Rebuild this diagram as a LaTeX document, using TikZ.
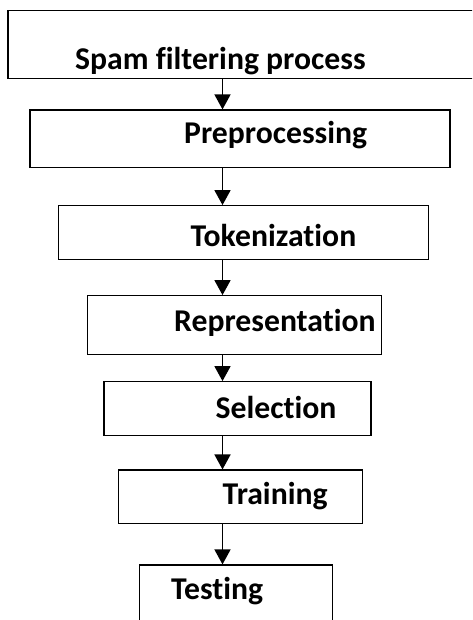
\documentclass[tikz,border=0pt]{standalone}
\usepackage{fontspec}
\setmainfont{Carlito}[Ligatures=NoCommon]
\usetikzlibrary{arrows.meta}
\begin{document}
\begin{tikzpicture}[x=1pt,y=-1pt,
 box/.style={draw, line width=1.2pt, rectangle, inner sep=0pt},
 lbl/.style={anchor=base west, inner sep=0pt, font=\fontsize{31.7}{36}\selectfont\bfseries},
 flow/.style={line width=1.6pt, -{Triangle[length=15pt,width=16pt]}}]
\useasboundingbox (0,0) rectangle (472,620);
\clip (0,0) rectangle (472,620);
\coordinate (ax) at (222.5,0);
\node[box, minimum width=512pt, minimum height=68pt] (b1) at (264,44.3) {};
\node[box, minimum width=420pt, minimum height=57.3pt] (b2) at (240,138.65) {};
\node[box, minimum width=370pt, minimum height=53.6pt] (b3) at (243.3,232.5) {};
\node[box, minimum width=294pt, minimum height=58.6pt] (b4) at (234.7,325) {};
\node[box, minimum width=267pt, minimum height=54pt] (b5) at (237.5,408.7) {};
\node[box, minimum width=244pt, minimum height=53.3pt] (b6) at (240.3,496.7) {};
\node[box, minimum width=193.4pt, minimum height=85pt] (b7) at (236,607.5) {};
\node[lbl] (t1) at (75,70) {Spam filtering process};
\node[lbl] (t2) at (184,143.5) {Preprocessing};
\node[lbl] (t3) at (190.5,246.3) {Tokenization};
\node[lbl] (t4) at (174,331.7) {Representation};
\node[lbl] (t5) at (215.5,418.3) {Selection};
\node[lbl] (t6) at (222.5,504.3) {Training};
\node[lbl] (t7) at (171,599.3) {Testing};
\draw[flow] (b1.south -| ax) -- (b2.north -| ax);
\draw[flow] (b2.south -| ax) -- (b3.north -| ax);
\draw[flow] (b3.south -| ax) -- (b4.north -| ax);
\draw[flow] (b4.south -| ax) -- (b5.north -| ax);
\draw[flow] (b5.south -| ax) -- (b6.north -| ax);
\draw[flow] (b6.south -| ax) -- (b7.north -| ax);
\end{tikzpicture}
\end{document}
